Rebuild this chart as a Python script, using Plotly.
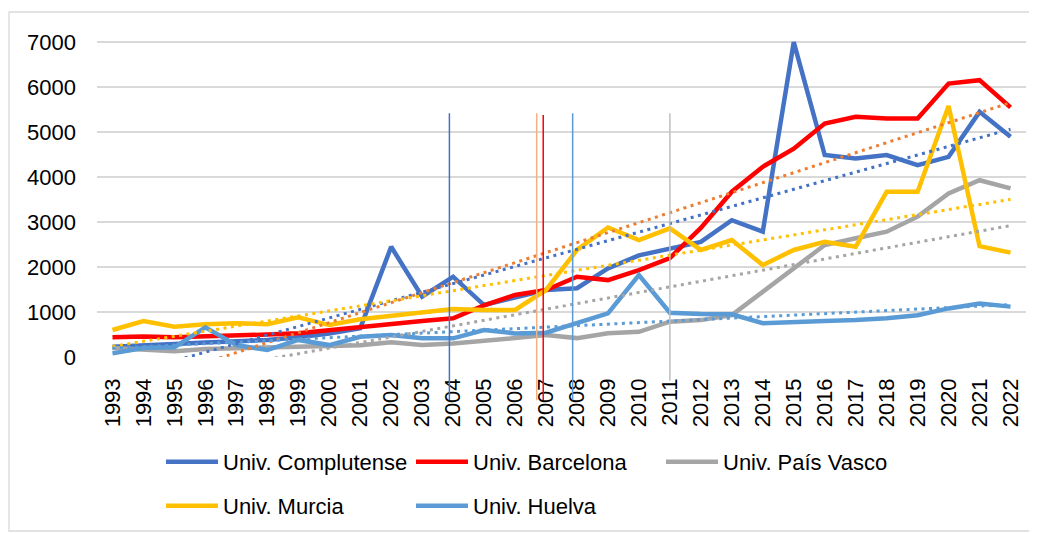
import numpy as np
import plotly.graph_objects as go

# === Data ===
years = list(range(1993, 2023))

complutense = [230, 270, 290, 320, 340, 380, 440, 520, 640, 2450,
               1340, 1785, 1155, 1310, 1490, 1530, 1970, 2260, 2420, 2560,
               3040, 2785, 7000, 4490, 4415, 4490, 4265, 4450, 5450, 4895]
barcelona = [440, 455, 440, 455, 480, 500, 530, 600, 680, 730,
             800, 860, 1150, 1380, 1490, 1785, 1710, 1930, 2200, 2870,
             3675, 4230, 4630, 5190, 5340, 5300, 5300, 6080, 6155, 5550]
pais_vasco = [200, 170, 130, 180, 200, 200, 220, 240, 260, 330,
              265, 300, 350, 420, 490, 420, 530, 560, 785, 820,
              930, 1450, 1970, 2490, 2640, 2785, 3120, 3635, 3930, 3750]
murcia = [600, 800, 675, 730, 750, 730, 880, 710, 840, 910,
          970, 1065, 1045, 1045, 1490, 2380, 2880, 2600, 2860, 2380,
          2600, 2045, 2380, 2560, 2450, 3675, 3675, 5580, 2465, 2320]
huelva = [80, 200, 215, 660, 265, 155, 380, 265, 450, 490,
          415, 415, 600, 525, 540, 750, 970, 1820, 985, 955,
          950, 750, 785, 800, 820, 860, 930, 1080, 1190, 1120]

series_names = ["Univ. Complutense", "Univ. Barcelona", "Univ. País Vasco",
                "Univ. Murcia", "Univ. Huelva"]
series_values = [complutense, barcelona, pais_vasco, murcia, huelva]
series_colors = ["#4472C4", "#FF0000", "#A5A5A5", "#FFC000", "#5B9BD5"]
trend_colors = ["#4472C4", "#ED7D31", "#A5A5A5", "#FFC000", "#5B9BD5"]
legend_rows = ["legend", "legend", "legend", "legend2", "legend2"]

# vertical marker lines (year position, top value, bottom value)
marker_x = [2003.88, 2006.70, 2006.91, 2007.86, 2011.0]
marker_top = [5420, 5420, 5380, 5420, 5420]
marker_bottom = [-960, -960, -960, -960, -530]
marker_colors = ["#4472C4", "#F4B183", "#FF0000", "#5B9BD5", "#BFBFBF"]

y_ticks = list(range(0, 8000, 1000))

# === Layout in pixels (page body adds an 8px offset) ===
W, H = 1029, 525
ML, MR, MT, MB = 89, 11, 31, 176
y_max = 7070
plot_w = W - ML - MR
plot_h = H - MT - MB

FONT = "Liberation Sans"
GRID = "#D9D9D9"

fig = go.Figure()

for name, vals, col, lg in zip(series_names, series_values, series_colors, legend_rows):
    fig.add_trace(go.Scatter(
        x=years, y=vals, mode="lines", name=name, legend=lg,
        line=dict(color=col, width=4.5),
    ))

# linear trendlines (least squares, like Excel)
x_arr = np.array(years, dtype=float)
for vals, col in zip(series_values, trend_colors):
    k, b = np.polyfit(x_arr, np.array(vals, dtype=float), 1)
    fig.add_trace(go.Scatter(
        x=[years[0], years[-1]], y=[k * years[0] + b, k * years[-1] + b],
        mode="lines", showlegend=False, hoverinfo="skip",
        line=dict(color=col, width=3, dash="3px,4.5px"),
    ))

shapes = []
for mx, top, bot, col in zip(marker_x, marker_top, marker_bottom, marker_colors):
    shapes.append(dict(
        type="line", xref="x", yref="paper", x0=mx, x1=mx,
        y0=bot / y_max, y1=top / y_max,
        line=dict(color=col, width=1.5), layer="above",
    ))

# outer chart border
bx0, bx1, by0, by1 = 1, 1024, 523, 4
shapes.append(dict(
    type="rect", xref="paper", yref="paper",
    x0=(bx0 - ML) / plot_w, x1=(bx1 - ML) / plot_w,
    y0=(MT + plot_h - by0) / plot_h, y1=(MT + plot_h - by1) / plot_h,
    line=dict(color=GRID, width=1.3), layer="below",
))

legend_common = dict(
    orientation="h", xanchor="left", yanchor="middle",
    x=(153 - ML) / plot_w,
    itemwidth=52,
    entrywidth=183, entrywidthmode="pixels",
    font=dict(family=FONT, size=22, color="#000000"),
    bgcolor="rgba(0,0,0,0)",
)

fig.update_layout(
    width=W, height=H,
    margin=dict(l=ML, r=MR, t=MT, b=MB, autoexpand=False),
    paper_bgcolor="white", plot_bgcolor="white",
    font=dict(family=FONT, size=22, color="#000000"),
    showlegend=True,
    legend=dict(legend_common, y=(MT + plot_h - 454) / plot_h),
    legend2=dict(legend_common, y=(MT + plot_h - 498) / plot_h),
    xaxis=dict(
        range=[1992.5, 2022.5],
        tickmode="array", tickvals=years, ticktext=[str(y) for y in years],
        tickangle=-90, showgrid=False, zeroline=False,
        showline=False, ticks="", ticklabelstandoff=16,
        tickfont=dict(family=FONT, size=22),
    ),
    yaxis=dict(
        range=[0, y_max],
        tickmode="array", tickvals=y_ticks,
        showgrid=True, gridcolor=GRID, gridwidth=1.5,
        zeroline=False, showline=False, ticks="", ticklabelstandoff=20,
        tickfont=dict(family=FONT, size=22),
    ),
    shapes=shapes,
)

fig.write_html("out.html")
